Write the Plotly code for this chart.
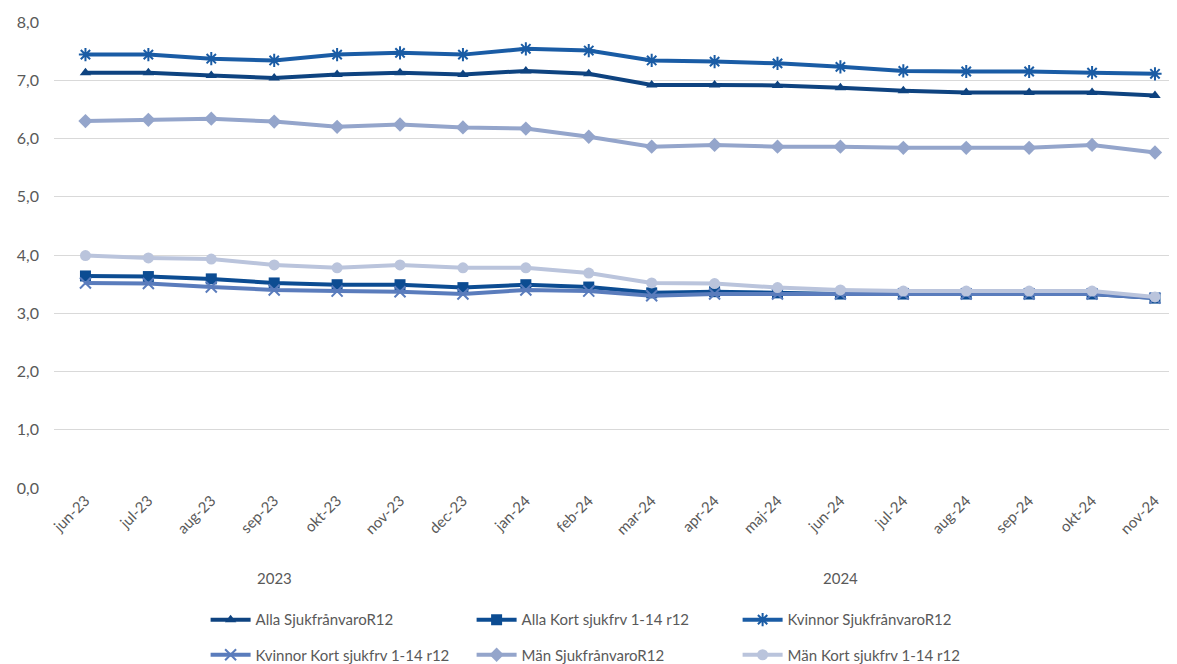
import plotly.graph_objects as go

months = ["jun-23", "jul-23", "aug-23", "sep-23", "okt-23", "nov-23", "dec-23",
          "jan-24", "feb-24", "mar-24", "apr-24", "maj-24", "jun-24", "jul-24",
          "aug-24", "sep-24", "okt-24", "nov-24"]

alla_sjuk = [7.13, 7.13, 7.08, 7.04, 7.10, 7.13, 7.10, 7.16, 7.11, 6.92, 6.92, 6.91, 6.87, 6.82, 6.79, 6.79, 6.79, 6.74]
alla_kort = [3.64, 3.63, 3.59, 3.52, 3.49, 3.49, 3.44, 3.49, 3.45, 3.35, 3.37, 3.35, 3.33, 3.33, 3.33, 3.33, 3.33, 3.26]
kvinnor_sjuk = [7.44, 7.44, 7.37, 7.34, 7.44, 7.47, 7.44, 7.54, 7.51, 7.34, 7.32, 7.29, 7.23, 7.16, 7.15, 7.15, 7.13, 7.11]
kvinnor_kort = [3.52, 3.51, 3.45, 3.40, 3.38, 3.37, 3.33, 3.40, 3.38, 3.30, 3.33, 3.33, 3.33, 3.33, 3.33, 3.33, 3.33, 3.26]
man_sjuk = [6.30, 6.32, 6.34, 6.29, 6.20, 6.24, 6.19, 6.17, 6.03, 5.86, 5.89, 5.86, 5.86, 5.84, 5.84, 5.84, 5.89, 5.76]
man_kort = [3.99, 3.95, 3.93, 3.83, 3.78, 3.83, 3.78, 3.78, 3.69, 3.52, 3.51, 3.44, 3.40, 3.38, 3.38, 3.38, 3.38, 3.28]

years = ["2023", "2024"]
year_centers = ["sep-23", "jun-24"]

series = [
    ("Alla SjukfrånvaroR12", alla_sjuk, "#0E4380", "triangle-up", 10, "legend"),
    ("Alla Kort sjukfrv 1-14 r12", alla_kort, "#0C4C92", "square", 11, "legend"),
    ("Kvinnor SjukfrånvaroR12", kvinnor_sjuk, "#1A5CA5", "asterisk-open", 11, "legend"),
    ("Kvinnor Kort sjukfrv 1-14 r12", kvinnor_kort, "#5A7CBC", "x-thin-open", 11, "legend2"),
    ("Män SjukfrånvaroR12", man_sjuk, "#94A5CB", "diamond", 11, "legend2"),
    ("Män Kort sjukfrv 1-14 r12", man_kort, "#BAC4DC", "circle", 11, "legend2"),
]

fig = go.Figure()
for name, vals, color, sym, size, lg in series:
    open_sym = sym.endswith("open")
    fig.add_trace(go.Scatter(
        x=months, y=vals, name=name, mode="lines+markers", legend=lg,
        line=dict(color=color, width=4),
        marker=dict(symbol=sym, size=size, color=color,
                    line=dict(color=color, width=2 if open_sym else 0)),
    ))

for yr, c in zip(years, year_centers):
    fig.add_annotation(x=c, xref="x", y=-0.193, yref="paper", yanchor="middle",
                       text=yr, showarrow=False, font=dict(size=15, color="#595959"))

legend_common = dict(orientation="h", x=0.135, xanchor="left",
                     entrywidth=211, entrywidthmode="pixels", itemwidth=40,
                     font=dict(size=15, color="#595959"), bgcolor="rgba(0,0,0,0)")

fig.update_layout(
    width=1169, height=656,
    margin=dict(l=46, r=0, t=14, b=176),
    paper_bgcolor="white", plot_bgcolor="white",
    separators=", ",
    font=dict(family="Lato, Open Sans, sans-serif", size=14, color="#595959"),
    showlegend=True,
    legend=dict(y=-0.283, yanchor="middle", **legend_common),
    legend2=dict(yref="container", y=0.0137, yanchor="middle", **legend_common),
    xaxis=dict(type="category", range=[-0.5, 17.35], tickangle=-45,
               showgrid=False, showline=False, ticks="",
               tickfont=dict(size=15, color="#595959")),
    yaxis=dict(range=[0, 8], dtick=1, tickformat=".1f", showgrid=True,
               gridcolor="#D9D9D9", gridwidth=1, zeroline=False, showline=False,
               ticks="", ticklabelstandoff=14, tickfont=dict(size=16, color="#595959")),
)

fig.write_html("out.html")
